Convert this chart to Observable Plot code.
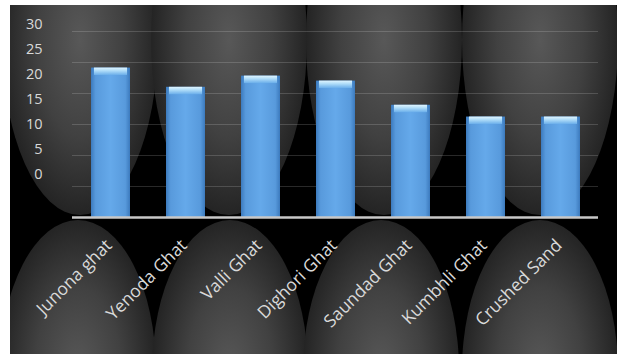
<!DOCTYPE html>
<html><head><meta charset="utf-8">
<script src="https://cdn.jsdelivr.net/npm/d3@7"></script>
<script src="https://cdn.jsdelivr.net/npm/@observablehq/plot@0.6"></script>
<style>
html,body{margin:0;padding:0;background:#fff;width:621px;height:354px;overflow:hidden}
#bg{position:absolute;left:10px;top:5px;width:607px;height:349px;background:#000;overflow:hidden}
#chart,#yaxis{position:absolute;left:0;top:0}
#defs{position:absolute;width:0;height:0}
</style></head><body>
<svg id="defs" width="0" height="0">
  <defs>
    <linearGradient id="barGrad" x1="0" x2="1" y1="0" y2="0">
      <stop offset="0" stop-color="#3c7abd"/>
      <stop offset="0.12" stop-color="#589adc"/>
      <stop offset="0.5" stop-color="#65a9ea"/>
      <stop offset="0.88" stop-color="#589adc"/>
      <stop offset="1" stop-color="#3c7abd"/>
    </linearGradient>
    <linearGradient id="bevelGrad" x1="0" x2="0" y1="0" y2="1">
      <stop offset="0" stop-color="#e0f5ff"/>
      <stop offset="0.4" stop-color="#b2def9"/>
      <stop offset="1" stop-color="#6aaeea"/>
    </linearGradient>
    <radialGradient id="eggGrad" cx="0.5" cy="0.5" r="0.5">
      <stop offset="0" stop-color="#585858"/>
      <stop offset="0.55" stop-color="#414141"/>
      <stop offset="1" stop-color="#242424"/>
    </radialGradient>
  </defs>
</svg>
<div id="bg"></div><div id="chart"></div><div id="yaxis"></div>
<script>
// ---- data ----
const sites = ["Junona ghat", "Yenoda Ghat", "Valli Ghat", "Dighori Ghat", "Saundad Ghat", "Kumbhli Ghat", "Crushed Sand"];
const values = [24.1, 21.0, 22.8, 22.0, 18.1, 16.2, 16.2];
const gridTicks = [5, 10, 15, 20, 25, 30];
const yTickLabels = [0, 5, 10, 15, 20, 25, 30];

const data = sites.map((site, i) => ({site, value: values[i]}));

// ---- decorative background (egg shapes) ----
const bgSvg = d3.select("#bg").append("svg").attr("width", 607).attr("height", 349);
const g = bgSvg.append("g").attr("transform", "translate(-10,-5)");
[80, 229, 384, 540].forEach(cx => g.append("ellipse")
  .attr("cx", cx).attr("cy", 40).attr("rx", 78).attr("ry", 175).attr("fill", "url(#eggGrad)"));
[78, 230, 381, 540].forEach(cx => g.append("ellipse")
  .attr("cx", cx).attr("cy", 371).attr("rx", 78).attr("ry", 151).attr("fill", "url(#eggGrad)"));

// ---- main chart ----
const chart = Plot.plot({
  width: 621, height: 354,
  marginLeft: 72, marginRight: 23, marginTop: 31, marginBottom: 137,
  style: {background: "transparent", overflow: "visible", fontFamily: "Open Sans"},
  x: {domain: sites, paddingInner: 0.48, paddingOuter: 0.24, axis: null},
  y: {domain: [0, 30], axis: null},
  marks: [
    Plot.ruleY(gridTicks, {stroke: "#ffffff", strokeOpacity: 0.16}),
    Plot.barY(data, {x: "site", y: "value", fill: "url(#barGrad)"}),
    Plot.barY(data, {x: "site", y1: d => d.value - 1.2, y2: "value", fill: "url(#bevelGrad)", insetLeft: 3, insetRight: 3}),
    Plot.ruleY([0], {stroke: "#c8c8c8", strokeWidth: 2.5}),
    Plot.text(sites, {x: d => d, text: d => d, frameAnchor: "bottom", rotate: -45, textAnchor: "end", lineAnchor: "bottom",
      dx: 2, dy: 29, fontSize: 17.5, fill: "#d9d9d9"})
  ]
});
document.getElementById("chart").appendChild(chart);

// ---- y tick labels (offset axis as in the original) ----
const yax = Plot.plot({
  width: 621, height: 354,
  marginLeft: 42, marginRight: 0, marginTop: 24, marginBottom: 180,
  style: {background: "transparent", fontFamily: "Open Sans"},
  x: {axis: null},
  y: {domain: [0, 30], label: null},
  marks: [
    Plot.axisY(yTickLabels, {tickSize: 0, tickPadding: 0, fontSize: 14.5, fill: "#d9d9d9", label: null})
  ]
});
document.getElementById("yaxis").appendChild(yax);
</script>
</body></html>
